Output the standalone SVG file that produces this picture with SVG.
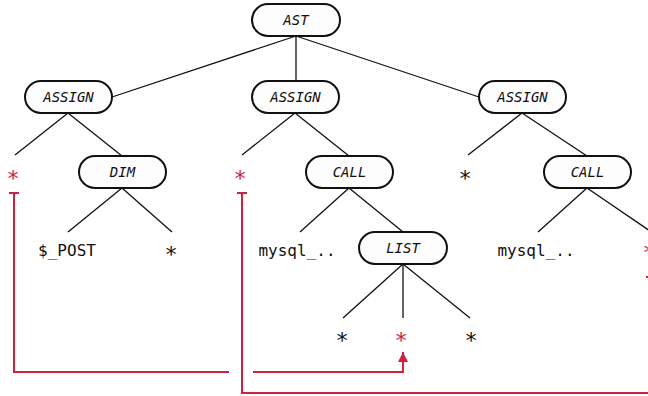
<svg xmlns="http://www.w3.org/2000/svg" width="648" height="396" viewBox="0 0 648 396">
<style>
.edge{stroke:#111;stroke-width:1.3;fill:none}
.node rect{fill:#fdfdfd;stroke:#111;stroke-width:2}
.node text{font-family:"DejaVu Sans Mono",monospace;font-style:italic;font-size:14px;fill:#111;text-anchor:middle}
.leaf{font-family:"DejaVu Sans Mono",monospace;font-size:16px;fill:#111;text-anchor:middle}
.star{font-family:"DejaVu Sans Mono",monospace;font-size:22px;fill:#111;text-anchor:middle}
.red{fill:#cf2140}
.flow{stroke:#cf2140;stroke-width:2;fill:none}
</style>
<defs>
<marker id="arr" viewBox="0 0 10 10" refX="10" refY="5" markerWidth="10" markerHeight="10" markerUnits="userSpaceOnUse" orient="auto">
<path d="M0,0 L10,5 L0,10 Z" fill="#cf2140"/>
</marker>
</defs>
<g id="connectors">
<line class="edge" x1="296" y1="36" x2="112" y2="97"/>
<line class="edge" x1="296" y1="36" x2="296" y2="80"/>
<line class="edge" x1="296" y1="36" x2="479" y2="97"/>
<line class="edge" x1="68" y1="113" x2="15" y2="155"/>
<line class="edge" x1="68" y1="113" x2="122" y2="156"/>
<line class="edge" x1="295" y1="113" x2="242" y2="155"/>
<line class="edge" x1="295" y1="113" x2="349" y2="156"/>
<line class="edge" x1="522" y1="113" x2="468" y2="155"/>
<line class="edge" x1="522" y1="113" x2="587" y2="156"/>
<line class="edge" x1="122" y1="188" x2="68" y2="232"/>
<line class="edge" x1="122" y1="188" x2="172" y2="232"/>
<line class="edge" x1="349" y1="188" x2="300" y2="232"/>
<line class="edge" x1="349" y1="188" x2="403" y2="232"/>
<line class="edge" x1="587" y1="188" x2="538" y2="232"/>
<line class="edge" x1="587" y1="188" x2="650" y2="231"/>
<line class="edge" x1="403" y1="264" x2="343" y2="318"/>
<line class="edge" x1="403" y1="264" x2="403" y2="318"/>
<line class="edge" x1="403" y1="264" x2="470" y2="318"/>
</g>
<g id="flows">
<path class="flow" d="M9,193 H19 M14,193 V372 H229"/>
<path class="flow" d="M253,372 H403 V352" marker-end="url(#arr)"/>
<path class="flow" d="M237,193 H247 M242,193 V393 H660"/>
<path class="flow" d="M646,277 H662 M654,277 V300"/>
</g>
<g id="n-ast" class="node"><rect x="252" y="4" width="88" height="32" rx="16"/><text x="296" y="25">AST</text></g>
<g id="n-assign1" class="node"><rect x="25" y="81" width="87" height="32" rx="16"/><text x="68.5" y="102">ASSIGN</text></g>
<g id="n-assign2" class="node"><rect x="252" y="81" width="87" height="32" rx="16"/><text x="295.5" y="102">ASSIGN</text></g>
<g id="n-assign3" class="node"><rect x="479" y="81" width="87" height="32" rx="16"/><text x="522.5" y="102">ASSIGN</text></g>
<g id="n-dim" class="node"><rect x="79" y="156" width="87" height="32" rx="16"/><text x="122.5" y="177">DIM</text></g>
<g id="n-call1" class="node"><rect x="306" y="156" width="87" height="32" rx="16"/><text x="349.5" y="177">CALL</text></g>
<g id="n-call2" class="node"><rect x="544" y="156" width="87" height="32" rx="16"/><text x="587.5" y="177">CALL</text></g>
<g id="n-list" class="node"><rect x="359" y="232" width="88" height="32" rx="16"/><text x="403" y="253">LIST</text></g>
<g id="n-leaf1"><text class="star red" x="13" y="186">*</text></g>
<g id="n-leaf2"><text class="star red" x="240" y="186">*</text></g>
<g id="n-leaf3"><text class="star" x="465" y="186">*</text></g>
<g id="n-post"><text class="leaf" x="67" y="256">$_POST</text></g>
<g id="n-leaf4"><text class="star" x="171" y="262">*</text></g>
<g id="n-mysql1"><text class="leaf" x="297" y="256">mysql_..</text></g>
<g id="n-mysql2"><text class="leaf" x="536" y="256">mysql_..</text></g>
<g id="n-leaf5"><text class="star red" x="649" y="260">*</text></g>
<g id="n-leaf6"><text class="star" x="342" y="348">*</text></g>
<g id="n-leaf7"><text class="star red" x="401" y="348">*</text></g>
<g id="n-leaf8"><text class="star" x="471" y="348">*</text></g>
</svg>
